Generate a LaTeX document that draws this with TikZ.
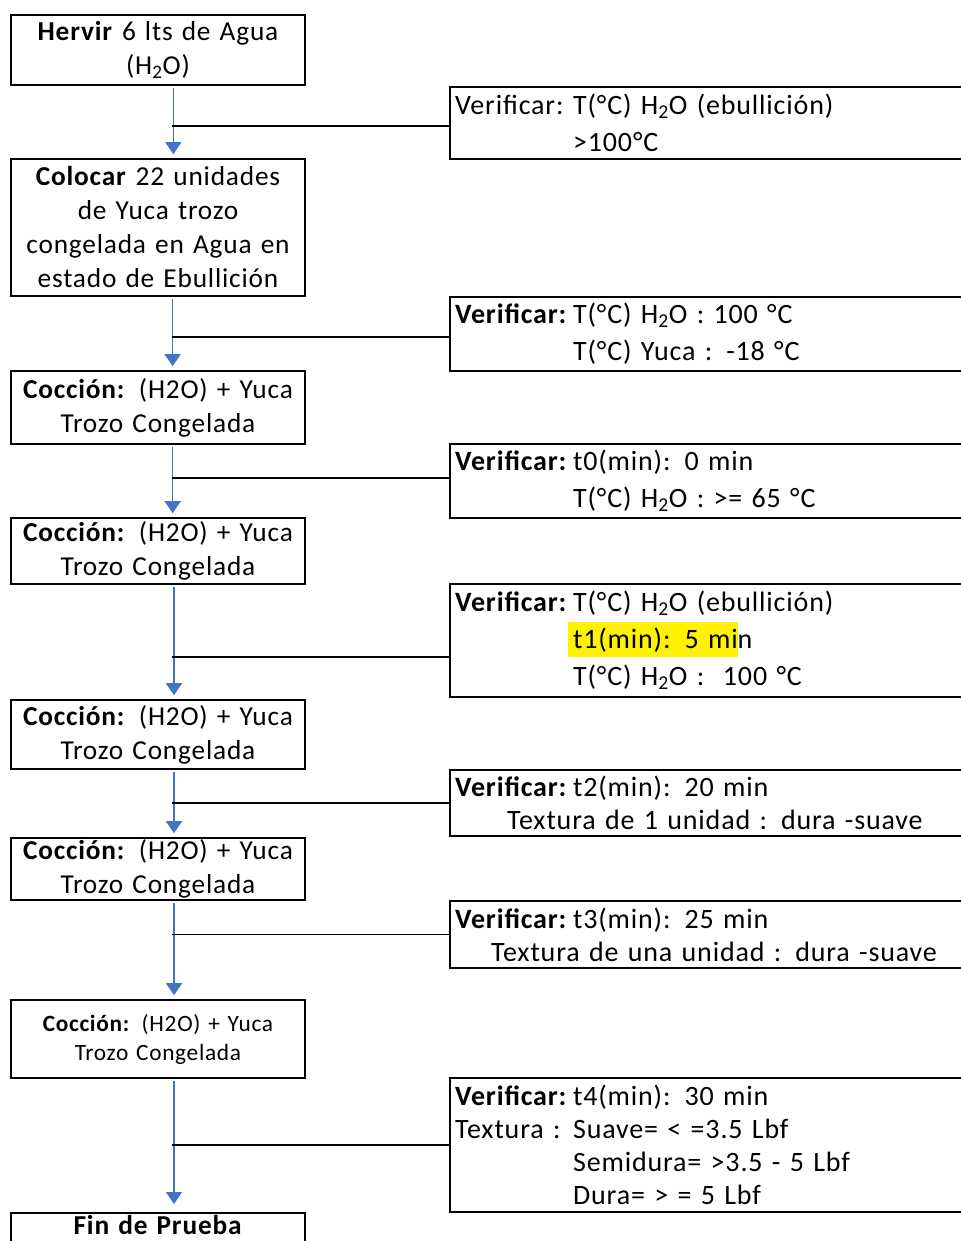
\documentclass[tikz,border=0pt]{standalone}
\usepackage{fontspec}
\setmainfont{Carlito}[LetterSpace=3, WordSpace=0.8]
\usetikzlibrary{arrows.meta}
\definecolor{azul}{HTML}{4472C4}
\newcommand{\colver}[1]{\makebox[88.5pt][l]{#1}}
\newcommand{\resaltar}[1]{{\setlength{\fboxsep}{0pt}\colorbox{yellow}{\rule[-0.3em]{0pt}{1.25em}\hspace*{3.75pt}#1}}}
\tikzset{
  caja/.style={draw, line width=1.2pt, inner xsep=4pt, inner ysep=1pt, font=\fontsize{20.5}{25.5}\selectfont},
  kpaso/.style={caja, align=center, text width=212pt, minimum width=220.5pt},
  kverif/.style={caja, anchor=west, align=left, text width=395pt, font=\fontsize{21}{27.75}\selectfont},
  kverifb/.style={kverif, font=\fontsize{21}{24.75}\selectfont},
  flujo/.style={-{Triangle[length=9pt, width=12pt]}, azul, line width=1.1pt, shorten <=2pt, shorten >=3pt},
  enlace/.style={line width=1.3pt},
}
\begin{document}
\begin{tikzpicture}[x=0.75pt, y=-0.75pt]
    \useasboundingbox (0,0) rectangle (960,1241);
    \node[kpaso, minimum height=52.5pt] (hervir) at (158,50) {\textbf{Hervir} 6 lts de Agua\\(H\textsubscript{2}O)};
    \node[kpaso, minimum height=102.75pt] (colocar) at (158,227.5) {\textbf{Colocar} 22 unidades\\de Yuca trozo\\congelada en Agua en\\estado de Ebullición};
    \node[kpaso, minimum height=54.75pt] (coccion1) at (158,407.5) {\textbf{Cocción:} (H2O) + Yuca\\Trozo Congelada};
    \node[kpaso, minimum height=49.5pt] (coccion2) at (158,551) {\textbf{Cocción:} (H2O) + Yuca\\Trozo Congelada};
    \node[kpaso, minimum height=51.75pt] (coccion3) at (158,734.5) {\textbf{Cocción:} (H2O) + Yuca\\Trozo Congelada};
    \node[kpaso, minimum height=46.5pt] (coccion4) at (158,869) {\textbf{Cocción:} (H2O) + Yuca\\Trozo Congelada};
    \node[kpaso, minimum height=58.5pt, font=\fontsize{17.5}{21.75}\selectfont] (coccion5) at (158,1039) {\textbf{Cocción:} (H2O) + Yuca\\Trozo Congelada};
    \node[kpaso, anchor=north, text height=15pt, text depth=30pt] (fin) at (158,1212) {\textbf{Fin de Prueba}};
    \node[kverif, minimum height=54pt] (verif1) at (449,123) {\colver{Verificar:}T(°C) H\textsubscript{2}O (ebullición)\\\colver{}>100°C};
    \node[kverif, minimum height=55.5pt] (verif2) at (449,334) {\colver{\textbf{Verificar:}}T(°C) H\textsubscript{2}O : 100 °C\\\colver{}T(°C) Yuca : -18 °C};
    \node[kverif, minimum height=55.5pt] (verif3) at (449,481) {\colver{\textbf{Verificar:}}t0(min): 0 min\\\colver{}T(°C) H\textsubscript{2}O : >= 65 °C};
    \node[kverif, minimum height=84.75pt] (verif4) at (449,640.5) {\colver{\textbf{Verificar:}}T(°C) H\textsubscript{2}O (ebullición)\\\makebox[84.75pt][l]{}\resaltar{t1(min): 5 mi}n\\\colver{}T(°C) H\textsubscript{2}O :\ \ 100 °C};
    \node[kverifb, minimum height=49.5pt] (verif5) at (449,803) {\colver{\textbf{Verificar:}}t2(min): 20 min\\\hspace*{39pt}Textura de 1 unidad : dura -suave};
    \node[kverifb, minimum height=50.25pt] (verif6) at (449,934.5) {\colver{\textbf{Verificar:}}t3(min): 25 min\\\hspace*{27pt}Textura de una unidad : dura -suave};
    \node[kverifb, minimum height=100.5pt] (verif7) at (449,1145) {\colver{\textbf{Verificar:}}t4(min): 30 min\\\colver{Textura :}Suave= < =3.5 Lbf\\\colver{}Semidura= >3.5 - 5 Lbf\\\colver{}Dura= > = 5 Lbf};
    \coordinate (eje) at (172,0);
    \draw[flujo] ([xshift=11.5pt]hervir.south) -- ([xshift=11.5pt]colocar.north);
    \draw[flujo] ([xshift=11pt]colocar.south) -- ([xshift=11pt]coccion1.north);
    \draw[flujo] ([xshift=11pt]coccion1.south) -- ([xshift=11pt]coccion2.north);
    \draw[flujo] ([xshift=12pt]coccion2.south) -- ([xshift=12pt]coccion3.north);
    \draw[flujo] ([xshift=12pt]coccion3.south) -- ([xshift=12pt]coccion4.north);
    \draw[flujo] ([xshift=12pt]coccion4.south) -- ([xshift=12pt]coccion5.north);
    \draw[flujo, shorten >=6pt] ([xshift=12pt]coccion5.south) -- ([xshift=12pt]fin.north);
    \draw[enlace] ([yshift=-2pt]verif1.west) -- ([yshift=-2pt]verif1.west -| eje);
    \draw[enlace] ([yshift=-2pt]verif2.west) -- ([yshift=-2pt]verif2.west -| eje);
    \draw[enlace] ([yshift=2pt]verif3.west) -- ([yshift=2pt]verif3.west -| eje);
    \draw[enlace] ([yshift=-12.4pt]verif4.west) -- ([yshift=-12.4pt]verif4.west -| eje);
    \draw[enlace] (verif5.west) -- (verif5.west -| eje);
    \draw[enlace] (verif6.west) -- (verif6.west -| eje);
    \draw[enlace] (verif7.west) -- (verif7.west -| eje);
  \end{tikzpicture}
\end{document}
